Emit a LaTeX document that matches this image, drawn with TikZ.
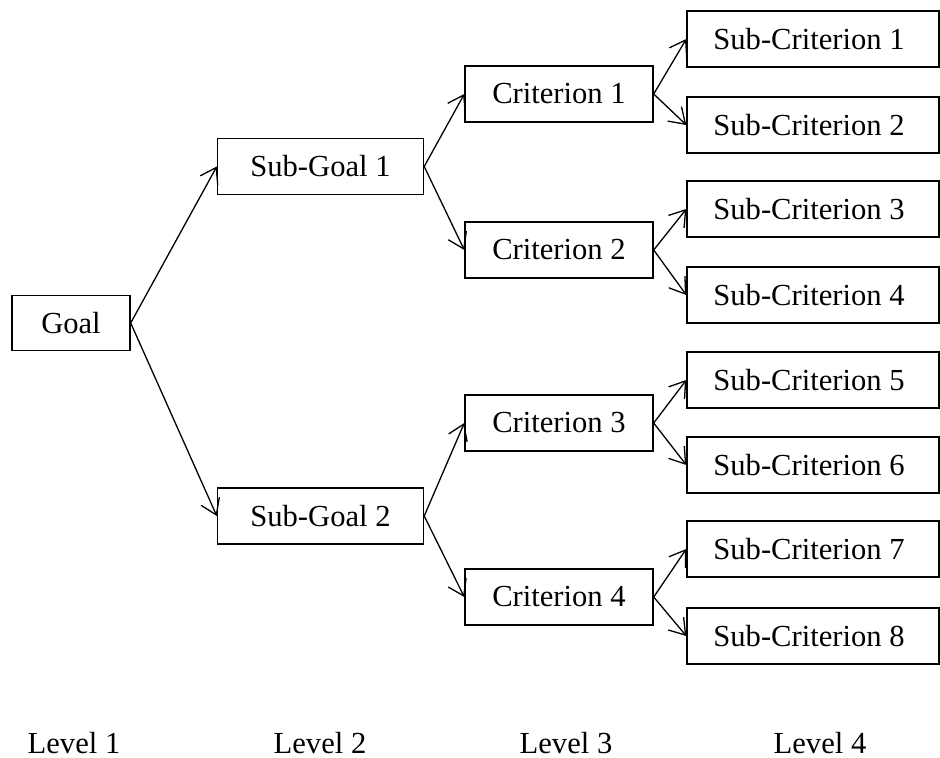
\documentclass[tikz,border=0pt]{standalone}
\usepackage{fontspec}
\setmainfont{Liberation Serif}
\usetikzlibrary{arrows.meta}
\begin{document}
\begin{tikzpicture}[x=0.5pt,y=-0.5pt,
  every node/.style={font=\fontsize{15.3}{18}\selectfont, inner sep=0pt},
  box/.style={draw, line width=0.7pt, rectangle, minimum height=28pt},
  goalbox/.style={box, minimum width=59pt, minimum height=27.5pt},
  sgbox/.style={box, minimum width=103pt},
  crbox/.style={box, minimum width=94pt},
  scbox/.style={box, minimum width=126pt, execute at begin node={\hspace*{-4pt}}},
  conn/.style={line width=0.65pt, -{Straight Barb[length=7.5pt,width=10pt]}},
  lvl/.style={anchor=base}]
\useasboundingbox (0,0) rectangle (940,758);
\node[goalbox] (g) at (71,323) {Goal};
\node[sgbox] (sg1) at (320.5,166.5) {Sub-Goal 1};
\node[sgbox] (sg2) at (320.5,516) {Sub-Goal 2};
\node[crbox] (c1) at (559,94) {Criterion 1};
\node[crbox] (c2) at (559,250) {Criterion 2};
\node[crbox] (c3) at (559,423) {Criterion 3};
\node[crbox] (c4) at (559,597) {Criterion 4};
\node[scbox] (s1) at (813,39) {Sub-Criterion 1};
\node[scbox] (s2) at (813,125) {Sub-Criterion 2};
\node[scbox] (s3) at (813,209) {Sub-Criterion 3};
\node[scbox] (s4) at (813,295) {Sub-Criterion 4};
\node[scbox] (s5) at (813,380) {Sub-Criterion 5};
\node[scbox] (s6) at (813,465) {Sub-Criterion 6};
\node[scbox] (s7) at (813,549) {Sub-Criterion 7};
\node[scbox] (s8) at (813,636) {Sub-Criterion 8};
\draw[conn] (g.east) -- (sg1.west);
\draw[conn] (g.east) -- (sg2.west);
\draw[conn] (sg1.east) -- (c1.west);
\draw[conn] (sg1.east) -- (c2.west);
\draw[conn] (sg2.east) -- (c3.west);
\draw[conn] (sg2.east) -- (c4.west);
\draw[conn] (c1.east) -- (s1.west);
\draw[conn] (c1.east) -- (s2.west);
\draw[conn] (c2.east) -- (s3.west);
\draw[conn] (c2.east) -- (s4.west);
\draw[conn] (c3.east) -- (s5.west);
\draw[conn] (c3.east) -- (s6.west);
\draw[conn] (c4.east) -- (s7.west);
\draw[conn] (c4.east) -- (s8.west);
\node[lvl] (l1) at (74,753) {Level 1};
\node[lvl] (l2) at (320,753) {Level 2};
\node[lvl] (l3) at (566,753) {Level 3};
\node[lvl] (l4) at (820,753) {Level 4};
\end{tikzpicture}
\end{document}
